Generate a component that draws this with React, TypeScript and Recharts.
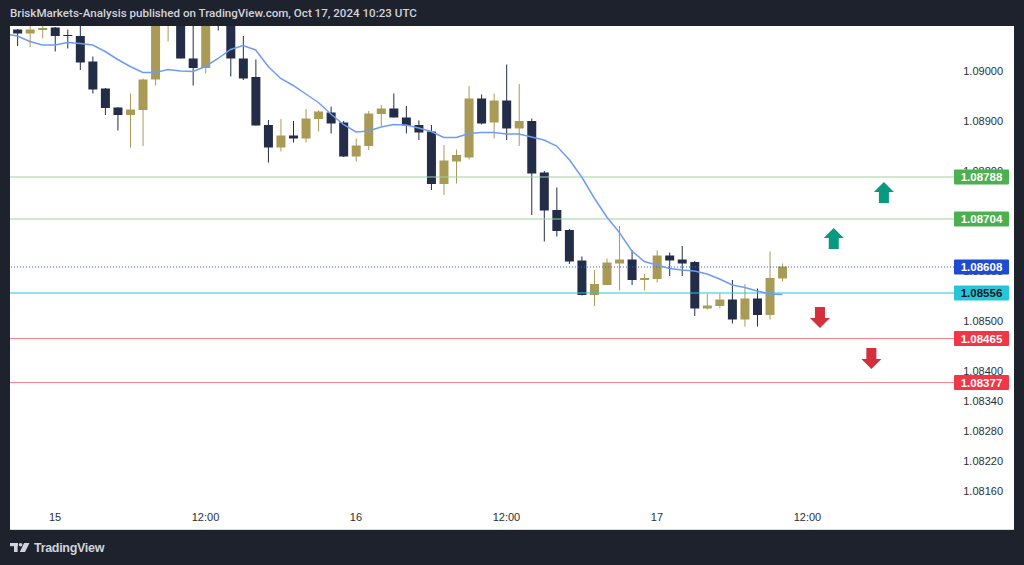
import { Bar, ComposedChart, Line, ReferenceDot, ReferenceLine, XAxis, YAxis } from 'recharts';

// hourly candles, hour 0 = Oct 15 00:00 UTC
const hours = [
  -4, -3, -2, -1, 0, 1, 2, 3, 4, 5, 6, 7, 8, 9, 10, 11, 12, 13, 14, 15, 16, 17, 18, 19, 20,
  21, 22, 23, 24, 25, 26, 27, 28, 29, 30, 31, 32, 33, 34, 35, 36, 37, 38, 39, 40, 41, 42,
  43, 44, 45, 46, 47, 48, 49, 50, 51, 52, 53, 54, 55, 56, 57, 58,
];
const opens = [
  null, 1.09083, 1.09075, 1.09082, 1.09087, 1.09072, 1.0907, 1.09019, 1.08965, 1.08927, 1.08912,
  1.08922, 1.08983, 1.0911, 1.09124, 1.09025, 1.09006, 1.09114, 1.09106, 1.09025, 1.08988,
  1.08892, 1.08847, 1.08871, 1.08865, 1.08904, 1.08917, 1.08897, 1.08829, 1.0885, 1.08914,
  1.08925, 1.08907, 1.08892, 1.08879, 1.08774, 1.08819, 1.08827, 1.08945, 1.08897, 1.08941,
  1.08885, 1.089, 1.08797, 1.08722, 1.08682, 1.08621, 1.08552, 1.08572, 1.08615, 1.08623,
  1.08582, 1.08584, 1.08631, 1.08623, 1.08618, 1.08525, 1.0853, 1.08543, 1.08503, 1.08545,
  1.08512, 1.08585,
];
const highs = [
  null, 1.09084, 1.09094, 1.09092, 1.09088, 1.09083, 1.09098, 1.09029, 1.08966, 1.08928, 1.08955,
  1.08985, 1.09122, 1.09134, 1.09132, 1.09106, 1.09126, 1.09122, 1.09114, 1.0907, 1.09023,
  1.08902, 1.08904, 1.089, 1.08924, 1.08922, 1.08929, 1.089, 1.08865, 1.0892, 1.08932,
  1.08955, 1.0893, 1.08901, 1.08892, 1.08852, 1.08843, 1.0897, 1.08953, 1.08955, 1.09013,
  1.08974, 1.08905, 1.088, 1.08767, 1.08684, 1.08629, 1.08602, 1.08625, 1.0869, 1.08642,
  1.08594, 1.08641, 1.08637, 1.0865, 1.0862, 1.08554, 1.08555, 1.08582, 1.08574, 1.08565,
  1.08639, 1.08615,
];
const lows = [
  null, 1.0905, 1.09048, 1.09065, 1.09039, 1.09045, 1.09002, 1.08955, 1.08912, 1.08881, 1.08847,
  1.0885, 1.08971, 1.09059, 1.09025, 1.08971, 1.08995, 1.09081, 1.08989, 1.08982, 1.08891,
  1.08817, 1.08839, 1.08857, 1.08857, 1.08879, 1.08875, 1.08828, 1.08819, 1.08842, 1.08889,
  1.08907, 1.08875, 1.08862, 1.08762, 1.08752, 1.08775, 1.08823, 1.08893, 1.08865, 1.08862,
  1.0885, 1.08712, 1.08659, 1.08669, 1.08614, 1.08551, 1.0853, 1.08572, 1.08561, 1.08572,
  1.08561, 1.08577, 1.0859, 1.0859, 1.0851, 1.08523, 1.08525, 1.08495, 1.08489, 1.08489,
  1.08503, 1.08579,
];
const closes = [
  null, 1.09075, 1.09083, 1.09086, 1.0907, 1.09071, 1.09017, 1.08963, 1.08926, 1.08912, 1.08923,
  1.08983, 1.09114, 1.09126, 1.09025, 1.09006, 1.09118, 1.09102, 1.09025, 1.08985, 1.08891,
  1.08847, 1.08871, 1.08865, 1.08905, 1.08919, 1.08895, 1.08829, 1.08851, 1.08915, 1.08925,
  1.08907, 1.08891, 1.08877, 1.08774, 1.08821, 1.08832, 1.08945, 1.08895, 1.08941, 1.08885,
  1.089, 1.08795, 1.08721, 1.0868, 1.08619, 1.08552, 1.08574, 1.08617, 1.08623, 1.08582,
  1.08586, 1.08631, 1.08621, 1.08615, 1.08525, 1.08531, 1.08543, 1.08503, 1.08545, 1.08512,
  1.08586, 1.08609,
];
const maValues = [
  1.09074, 1.0907, 1.09059, 1.09052, 1.09052, 1.09057, 1.09055, 1.09052, 1.09039, 1.09023, 1.09009,
  1.08997, 1.08997, 1.09003, 1.09, 1.08999, 1.09009, 1.09025, 1.09043, 1.09051, 1.09042,
  1.09009, 1.08985, 1.08971, 1.08954, 1.08937, 1.08914, 1.08893, 1.08878, 1.0888, 1.08888,
  1.08893, 1.08892, 1.08886, 1.08879, 1.08867, 1.08867, 1.08875, 1.08877, 1.08877, 1.08874,
  1.08874, 1.08868, 1.08862, 1.0885, 1.08823, 1.08788, 1.08746, 1.08708, 1.08677, 1.0864,
  1.08619, 1.08612, 1.08605, 1.08602, 1.086, 1.08594, 1.08584, 1.08572, 1.08567, 1.0856,
  1.08554, 1.08553,
];

const timeTicks = [0, 12, 24, 36, 48, 60];
const timeLabels = ['15', '12:00', '16', '12:00', '17', '12:00'];
const priceTicks = [1.09, 1.089, 1.088, 1.087, 1.086, 1.085, 1.084, 1.0834, 1.0828, 1.0822, 1.0816];

const levelPrices = [1.08788, 1.08704, 1.08608, 1.08556, 1.08465, 1.08377];
const levelKinds = ['green', 'green', 'blue', 'cyan', 'red', 'red'];

const arrowHours = [66.1, 62.1, 61.0, 65.1];
const arrowPrices = [1.08757, 1.08665, 1.08507, 1.08425];
const arrowDirs = ['up', 'up', 'down', 'down'];

const data = hours.map((h, i) => ({
  h,
  open: opens[i],
  high: highs[i],
  low: lows[i],
  close: closes[i],
  ma: maValues[i],
}));

const NAVY = '#242d48';
const GOLD = '#a99b55';
const FONT = '"Liberation Sans", Arial, sans-serif';
const AXIS_TEXT = '#2a2e39';

const levelStyle: Record<string, { line: string; tag: string; text: string; dash?: string }> = {
  green: { line: '#9bd4a0', tag: '#4caf50', text: '#ffffff' },
  blue: { line: '#2f5cf0', tag: '#1e4bd2', text: '#ffffff', dash: '1 2' },
  cyan: { line: '#26c6da', tag: '#26c6da', text: '#131722' },
  red: { line: '#f7848c', tag: '#f23645', text: '#ffffff' },
};

function Candle(props: any) {
  const { x, y, width, height, payload } = props;
  if (payload.open == null || !height) return null;
  const { open, high, low, close } = payload;
  const k = height / (high - low);
  const yOf = (v: number) => y + (high - v) * k;
  const cx = x + width / 2;
  const color = close >= open ? GOLD : NAVY;
  const top = yOf(Math.max(open, close));
  const bot = yOf(Math.min(open, close));
  return (
    <g>
      <line x1={cx} x2={cx} y1={y} y2={y + height} stroke={color} strokeWidth={1} />
      <rect x={x} y={top} width={width} height={Math.max(bot - top, 1)} fill={color} />
    </g>
  );
}

// price scale labels, drawn as reference labels so the level tags can sit over them
function PriceTick({ viewBox, price }: any) {
  return (
    <text
      x={viewBox.x + viewBox.width + 49}
      y={viewBox.y + 4}
      textAnchor="end"
      fill={AXIS_TEXT}
      fontSize={11}
      fontFamily={FONT}
    >
      {price.toFixed(5)}
    </text>
  );
}

function PriceTag({ viewBox, price, kind }: any) {
  const s = levelStyle[kind];
  const x = viewBox.x + viewBox.width;
  const y = viewBox.y;
  return (
    <g>
      <rect x={x} y={y - 7.5} width={55} height={15} rx={1} fill={s.tag} />
      <text
        x={x + 27.5}
        y={y + 4}
        textAnchor="middle"
        fill={s.text}
        fontSize={11.5}
        fontWeight={700}
        fontFamily={FONT}
      >
        {price.toFixed(5)}
      </text>
    </g>
  );
}

function Arrow({ cx, cy, dir }: any) {
  const s = dir === 'up' ? 1 : -1;
  const pts = [
    [0, -10.5],
    [10, -0.5],
    [5, -0.5],
    [5, 10.5],
    [-5, 10.5],
    [-5, -0.5],
    [-10, -0.5],
  ]
    .map(([px, py]) => `${cx + px},${cy + py * s}`)
    .join(' ');
  return <polygon points={pts} fill={dir === 'up' ? '#089981' : '#d32f3c'} />;
}

export default function App() {
  return (
    <div
      style={{
        position: 'absolute',
        left: 0,
        top: 0,
        width: 1024,
        height: 565,
        background: '#1e222d',
        fontFamily: FONT,
        overflow: 'hidden',
      }}
    >
      <div
        style={{
          position: 'absolute',
          left: 10,
          top: 5,
          fontSize: 11.6,
          lineHeight: '16px',
          color: '#d1d4dc',
          fontFamily: 'Roboto, "Liberation Sans", sans-serif',
          fontWeight: 500,
          whiteSpace: 'nowrap',
        }}
      >
        BriskMarkets-Analysis published on TradingView.com, Oct 17, 2024 10:23 UTC
      </div>

      <div
        style={{
          position: 'absolute',
          left: 10,
          top: 26,
          width: 1004,
          height: 504,
          background: '#ffffff',
        }}
      >
        <ComposedChart width={1004} height={504} data={data} margin={{ top: 0, right: 0, bottom: 0, left: 0 }}>
          <XAxis
            dataKey="h"
            type="number"
            domain={[-3.59, 71.69]}
            allowDataOverflow
            ticks={timeTicks}
            interval={0}
            tickFormatter={(v: number) => timeLabels[timeTicks.indexOf(v)]}
            axisLine={false}
            tickLine={false}
            height={25}
            tick={{ fill: AXIS_TEXT, fontSize: 11, fontFamily: FONT }}
          />
          <YAxis
            orientation="right"
            type="number"
            domain={[1.08132, 1.0909]}
            allowDataOverflow
            ticks={priceTicks}
            axisLine={false}
            tickLine={false}
            tick={false}
            width={60}
          />
          {levelPrices.map((p, i) => (
            <ReferenceLine
              key={'l' + i}
              y={p}
              stroke={levelStyle[levelKinds[i]].line}
              strokeWidth={1}
              strokeDasharray={levelStyle[levelKinds[i]].dash}
            />
          ))}
          <Bar
            dataKey={(d: any) => (d.open == null ? null : [d.low, d.high])}
            barSize={9}
            shape={(p: any) => <Candle {...p} />}
            isAnimationActive={false}
          />
          <Line
            dataKey="ma"
            type="linear"
            stroke="#6e9cf5"
            strokeWidth={1.5}
            dot={false}
            activeDot={false}
            isAnimationActive={false}
          />
          {arrowHours.map((h, i) => (
            <ReferenceDot
              key={'a' + i}
              x={h}
              y={arrowPrices[i]}
              r={0}
              ifOverflow="visible"
              shape={(p: any) => <Arrow cx={p.cx} cy={p.cy} dir={arrowDirs[i]} />}
            />
          ))}
          {priceTicks.map((p, i) => (
            <ReferenceLine
              key={'k' + i}
              y={p}
              stroke="none"
              label={(lp: any) => <PriceTick viewBox={lp.viewBox} price={p} />}
            />
          ))}
          {levelPrices.map((p, i) => (
            <ReferenceLine
              key={'t' + i}
              y={p}
              stroke="none"
              label={(lp: any) => <PriceTag viewBox={lp.viewBox} price={p} kind={levelKinds[i]} />}
            />
          ))}
        </ComposedChart>
        <div
          style={{
            position: 'absolute',
            left: 0,
            right: 0,
            bottom: 0,
            height: 1,
            background: '#d6d8de',
          }}
        />
      </div>

      <div
        style={{
          position: 'absolute',
          left: 10,
          top: 540,
          height: 16,
          display: 'flex',
          alignItems: 'center',
          color: '#d1d4dc',
        }}
      >
        <svg width={20} height={10} viewBox="0 0 20 10" style={{ marginRight: 4 }}>
          <rect x={0} y={0} width={8} height={3.2} fill="#d1d4dc" />
          <rect x={4} y={0} width={3.6} height={9} fill="#d1d4dc" />
          <circle cx={10.6} cy={1.8} r={1.8} fill="#d1d4dc" />
          <polygon points="14,0 19.5,0 15,9 9.8,9" fill="#d1d4dc" />
        </svg>
        <span style={{ fontSize: 12.5, fontWeight: 700, letterSpacing: -0.3 }}>TradingView</span>
      </div>
    </div>
  );
}
